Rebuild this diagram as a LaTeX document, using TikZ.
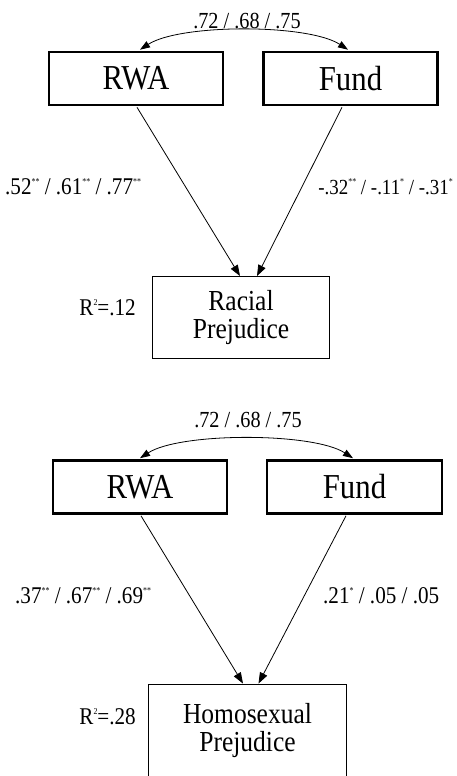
\documentclass[tikz,border=0pt]{standalone}
\usepackage{fontspec}
\setmainfont{Liberation Serif}[FakeStretch=0.88]
\usetikzlibrary{arrows.meta,calc}
\newcommand{\sg}[1]{\raisebox{10pt}{\fontsize{9}{9}\selectfont #1}}
\tikzset{
  bigbox/.style={draw, line width=2.6pt, minimum width=174pt, minimum height=53pt, inner sep=0pt, font=\fontsize{35}{35}\selectfont},
  outbox/.style={draw, line width=0.9pt, align=center, inner sep=0pt, font=\fontsize{29}{28}\selectfont},
  lbl/.style={inner sep=0pt, font=\fontsize{24}{24}\selectfont},
  corr/.style={inner sep=0pt, font=\fontsize{23}{23}\selectfont},
  arr/.style={-{Triangle[length=11pt,width=8pt]}, line width=0.8pt},
  darr/.style={{Triangle[length=10pt,width=7pt]}-{Triangle[length=10pt,width=7pt]}, line width=0.8pt}
}
\begin{document}
\begin{tikzpicture}[x=1pt,y=-1pt]
\useasboundingbox (0,0) rectangle (456,776);
% ---------- top panel ----------
\node[bigbox] (rwa1) at (136,78.5) {RWA};
\node[bigbox] (fund1) at (350.5,78.5) {Fund};
\node[outbox, minimum width=177pt, minimum height=82pt] (rac) at (241,317.5) {Racial\\Prejudice};
\node[corr] (c1) at (247,21) {.72 / .68 / .75};
\draw[darr] ($(rwa1.north)+(4,-1)$) .. controls +(40,-26) and +(-40,-26) .. ($(fund1.north)+(-2.5,-1)$);
\draw[arr] ($(rwa1.south)+(1,1)$) -- ($(rac.north)+(-1,0)$);
\draw[arr] ($(fund1.south)+(-8.5,1)$) -- ($(rac.north)+(16,0)$);
\node[lbl, anchor=west] (p1) at (5,187) {.52\sg{**} / .61\sg{**} / .77\sg{**}};
\node[lbl, anchor=east, font=\fontsize{21.5}{21.5}\selectfont] (p2) at (453,187) {-.32\sg{**} / -.11\sg{*} / -.31\sg{*}};
\node[lbl, anchor=east] (r1) at (136,308) {R\sg{2}=.12};
% ---------- bottom panel ----------
\node[bigbox] (rwa2) at (140,487) {RWA};
\node[bigbox, minimum width=175pt] (fund2) at (354.5,487) {Fund};
\node[outbox, minimum width=198pt, minimum height=94pt] (hom) at (247.5,731) {Homosexual\\Prejudice};
\node[corr] (c2) at (248,420) {.72 / .68 / .75};
\draw[darr] ($(rwa2.north)+(0,-1)$) .. controls +(40,-26) and +(-40,-26) .. ($(fund2.north)+(-1.5,-1)$);
\draw[arr] ($(rwa2.south)+(1,1)$) -- ($(hom.north)+(-4.5,0)$);
\draw[arr] ($(fund2.south)+(-8.5,1)$) -- ($(hom.north)+(11,0)$);
\node[lbl, anchor=west] (p3) at (15,596) {.37\sg{**} / .67\sg{**} / .69\sg{**}};
\node[lbl, anchor=west] (p4) at (323,596) {.21\sg{*} / .05 / .05};
\node[lbl, anchor=east] (r2) at (136,717) {R\sg{2}=.28};
\end{tikzpicture}
\end{document}
